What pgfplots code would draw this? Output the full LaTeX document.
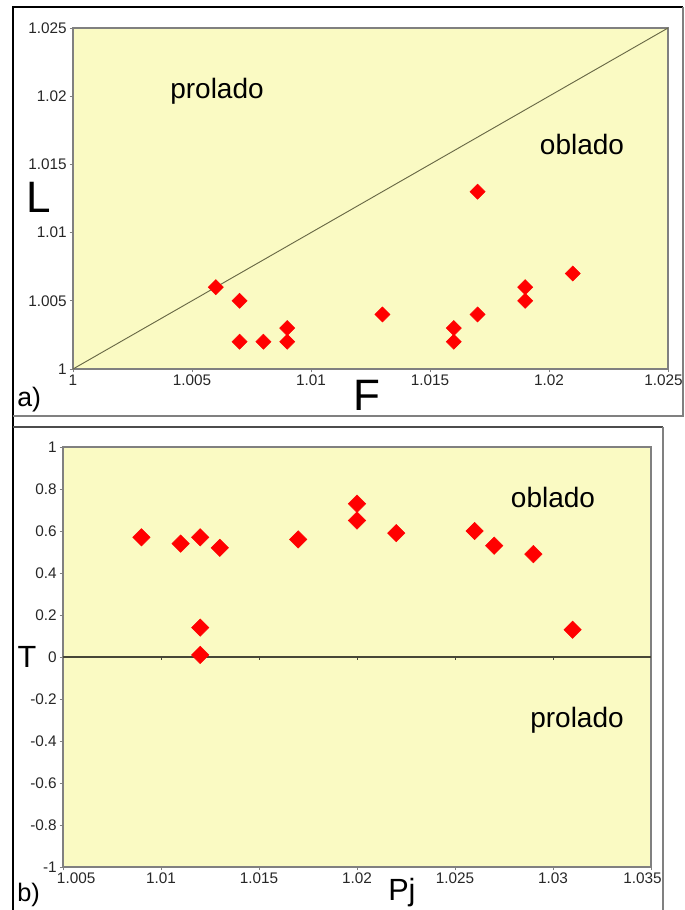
\documentclass[border=0pt]{standalone}
\usepackage{pgfplots}
\pgfplotsset{compat=1.18}
\usepackage{fontspec}
\setmainfont{Liberation Sans}
\definecolor{bg}{RGB}{250,250,195}
\definecolor{frame}{RGB}{128,128,128}
\definecolor{diag}{RGB}{105,105,70}
\definecolor{zl}{RGB}{70,70,55}
\newcommand{\tfont}{\fontsize{11.5}{12}\selectfont}
\begin{document}
\begin{tikzpicture}
\useasboundingbox (0pt,0pt) rectangle (513.75pt,-682.5pt);
% frames
\draw[black, line width=2.2pt] (9.75pt,-682.5pt) -- (9.75pt,-5.25pt) -- (512.25pt,-5.25pt);
\draw[frame, line width=0.8pt] (512.25pt,-5.25pt) -- (512.25pt,-312pt) -- (9.75pt,-312pt);
\draw[black!70, line width=0.8pt] (9.75pt,-320.25pt) -- (497.25pt,-320.25pt);
\draw[frame, line width=0.8pt] (497.25pt,-320.25pt) -- (497.25pt,-682.5pt);

% panel a
\begin{axis}[
  at={(54.75pt,-276.75pt)}, anchor=south west,
  scale only axis, width=446.25pt, height=255.75pt,
  xmin=1, xmax=1.025, ymin=1, ymax=1.025,
  axis background/.style={fill=bg},
  axis line style={frame, line width=0.8pt},
  xtick={1,1.005,1.01,1.015,1.02,1.025},
  xticklabels={1,1.005,1.01,1.015,1.02,{\makebox[0pt][r]{1.025\hspace{-11pt}}}},
  ytick={1,1.005,1.01,1.015,1.02,1.025},
  yticklabels={1,1.005,1.01,1.015,1.02,1.025},
  tick align=outside, major tick length=2.5pt,
  tick style={frame, line width=0.6pt},
  xtick pos=bottom, ytick pos=left,
  ticklabel style={font=\tfont, text=black!85},
  xticklabel style={inner sep=2pt},
  yticklabel style={inner sep=2pt},
  clip=false,
]
\addplot[diag, line width=0.7pt, no marks] coordinates {(1,1) (1.025,1.025)};
\addplot[only marks, mark=square*, mark size=4pt, mark options={rotate=45, fill=red, draw=red}]
coordinates {
(1.006,1.006) (1.007,1.005) (1.007,1.002) (1.008,1.002) (1.009,1.003) (1.009,1.002)
(1.013,1.004) (1.016,1.003) (1.016,1.002) (1.017,1.004) (1.017,1.013)
(1.019,1.005) (1.019,1.006) (1.021,1.007)
};
\end{axis}

% panel b
\begin{axis}[
  at={(47.25pt,-650.25pt)}, anchor=south west,
  scale only axis, width=441pt, height=315pt,
  xmin=1.005, xmax=1.035, ymin=-1, ymax=1,
  axis background/.style={fill=bg},
  axis line style={frame, line width=0.8pt},
  xtick={1.005,1.01,1.015,1.02,1.025,1.03,1.035},
  xticklabels={{\makebox[0pt][l]{\hspace{-4.5pt}1.005}},1.01,1.015,1.02,1.025,1.03,{\makebox[0pt][r]{1.035\hspace{-8pt}}}},
  ytick={-1,-0.8,-0.6,-0.4,-0.2,0,0.2,0.4,0.6,0.8,1},
  yticklabels={-1,-0.8,-0.6,-0.4,-0.2,0,0.2,0.4,0.6,0.8,1},
  tick align=outside, major tick length=2.5pt,
  tick style={frame, line width=0.6pt},
  xtick pos=bottom, ytick pos=left,
  ticklabel style={font=\tfont, text=black!85},
  xticklabel style={inner sep=2pt},
  yticklabel style={inner sep=2pt},
  clip=false,
]
\draw[zl, line width=0.9pt] (axis cs:1.005,0) -- (axis cs:1.035,0);
\draw[zl, line width=0.6pt] (axis cs:1.01,0) -- ++(0pt,-2.5pt);
\draw[zl, line width=0.6pt] (axis cs:1.015,0) -- ++(0pt,-2.5pt);
\draw[zl, line width=0.6pt] (axis cs:1.02,0) -- ++(0pt,-2.5pt);
\draw[zl, line width=0.6pt] (axis cs:1.025,0) -- ++(0pt,-2.5pt);
\draw[zl, line width=0.6pt] (axis cs:1.03,0) -- ++(0pt,-2.5pt);
\addplot[only marks, mark=square*, mark size=4.6pt, mark options={rotate=45, fill=red, draw=red}]
coordinates {
(1.009,0.57) (1.011,0.54) (1.012,0.57) (1.013,0.52) (1.017,0.56)
(1.020,0.73) (1.020,0.65) (1.022,0.59) (1.026,0.60) (1.027,0.53)
(1.029,0.49) (1.031,0.13) (1.012,0.14) (1.012,0.01)
};
\end{axis}

% texts panel a
\node[font=\fontsize{21}{21}\selectfont] at (162.75pt,-68.25pt) {prolado};
\node[font=\fontsize{21}{21}\selectfont] at (436.5pt,-108pt) {oblado};
\node[font=\fontsize{33}{33}\selectfont, inner sep=0pt] at (29.25pt,-147.75pt) {L};
\node[font=\fontsize{33}{33}\selectfont, inner sep=0pt, anchor=base] at (275.25pt,-307.5pt) {F};
\node[font=\fontsize{20}{20}\selectfont, inner sep=0pt, anchor=base west] at (12.75pt,-304.5pt) {a)};
% texts panel b
\node[font=\fontsize{21}{21}\selectfont] at (414.75pt,-372.75pt) {oblado};
\node[font=\fontsize{21}{21}\selectfont] at (432.75pt,-540pt) {prolado};
\node[font=\fontsize{23}{23}\selectfont, inner sep=0pt] at (20.25pt,-492.75pt) {T};
\node[font=\fontsize{23}{23}\selectfont, inner sep=0pt, anchor=base west] at (291pt,-675pt) {Pj};
\node[font=\fontsize{19}{19}\selectfont, inner sep=0pt, anchor=base west] at (12.75pt,-675.75pt) {b)};
\end{tikzpicture}
\end{document}
